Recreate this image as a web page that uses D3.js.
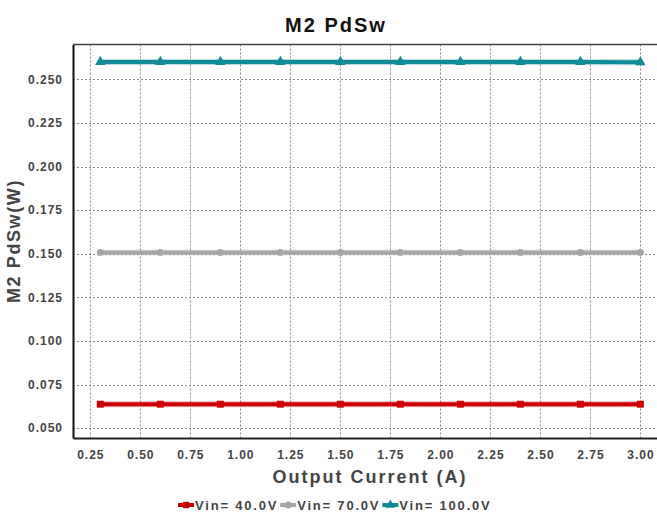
<!DOCTYPE html>
<html>
<head>
<meta charset="utf-8">
<script src="https://cdn.jsdelivr.net/npm/d3@7"></script>
<style>
  html, body { margin: 0; padding: 0; background: #fff; }
  svg { display: block; font-family: "Liberation Sans", Arial, sans-serif; }
</style>
</head>
<body>
<svg id="chart" width="657" height="513"></svg>
<script>
// Output current sweep (A)
const current = [0.3, 0.6, 0.9, 1.2, 1.5, 1.8, 2.1, 2.4, 2.7, 3.0];

// M2 switching loss (W) for each input voltage
const vin40 = [0.0637, 0.0637, 0.0637, 0.0637, 0.0637, 0.0637, 0.0637, 0.0637, 0.0637, 0.0637];
const vin70 = [0.1507, 0.1507, 0.1507, 0.1507, 0.1507, 0.1507, 0.1507, 0.1507, 0.1507, 0.1507];
const vin100 = [0.2600, 0.2600, 0.2600, 0.2600, 0.2600, 0.2600, 0.2600, 0.2600, 0.2600, 0.2598];

const seriesNames = ["Vin= 40.0V", "Vin= 70.0V", "Vin= 100.0V"];
const seriesColors = ["#cc0000", "#a6a6a6", "#138a98"];
const seriesMarkers = ["square", "circle", "triangle"];

const xTicks = [0.25, 0.5, 0.75, 1.0, 1.25, 1.5, 1.75, 2.0, 2.25, 2.5, 2.75, 3.0];
const yTicks = [0.05, 0.075, 0.1, 0.125, 0.15, 0.175, 0.2, 0.225, 0.25];

const series = [vin40, vin70, vin100].map((vals, i) => ({
  name: seriesNames[i],
  color: seriesColors[i],
  marker: seriesMarkers[i],
  points: vals.map((v, j) => ({ x: current[j], y: v }))
}));

const svg = d3.select("#chart");
const W = 657, H = 513;
const plot = { left: 73, top: 44.5, right: 660, bottom: 438 };

const x = d3.scaleLinear().domain([0.1635, 3.098]).range([plot.left, plot.right]);
const y = d3.scaleLinear().domain([0.04432, 0.27]).range([plot.bottom, plot.top]);

// Grid lines
const grid = svg.append("g");
grid.selectAll("line.gx").data(xTicks).join("line")
  .attr("x1", d => Math.round(x(d)) + 0.5).attr("x2", d => Math.round(x(d)) + 0.5)
  .attr("y1", plot.top).attr("y2", plot.bottom)
  .attr("stroke", "#8c8c8c").attr("stroke-width", 1).attr("stroke-dasharray", "2,2");
grid.selectAll("line.gy").data(yTicks).join("line")
  .attr("y1", d => Math.round(y(d)) + 0.5).attr("y2", d => Math.round(y(d)) + 0.5)
  .attr("x1", plot.left).attr("x2", W)
  .attr("stroke", "#8c8c8c").attr("stroke-width", 1).attr("stroke-dasharray", "2,2");

// Top frame
svg.append("line").attr("x1", plot.left).attr("x2", W)
  .attr("y1", plot.top).attr("y2", plot.top)
  .attr("stroke", "#444").attr("stroke-width", 1.5);

// Axes
const xAxis = d3.axisBottom(x).tickValues(xTicks).tickFormat(d3.format(".2f")).tickSize(0).tickPadding(10);
const yAxis = d3.axisLeft(y).tickValues(yTicks).tickFormat(d3.format(".3f")).tickSize(0).tickPadding(10);

const gx = svg.append("g").attr("transform", `translate(0,${plot.bottom})`).call(xAxis);
gx.select(".domain").attr("stroke", "#222").attr("stroke-width", 2);
gx.selectAll("text").attr("font-size", 12).attr("font-weight", "bold")
  .attr("fill", "#444").attr("letter-spacing", "1px").attr("dy", "0.95em");

const gy = svg.append("g").attr("transform", `translate(${plot.left},0)`).call(yAxis);
gy.select(".domain").attr("stroke", "#111").attr("stroke-width", 2);
gy.selectAll("text").attr("font-size", 12).attr("font-weight", "bold")
  .attr("fill", "#444").attr("letter-spacing", "1px");

// Series lines and markers
const line = d3.line().x(d => x(d.x)).y(d => y(d.y));
const symbolType = { square: d3.symbolSquare, circle: d3.symbolCircle, triangle: d3.symbolTriangle };

series.forEach(s => {
  const g = svg.append("g");
  g.append("path").datum(s.points).attr("d", line)
    .attr("fill", "none").attr("stroke", s.color).attr("stroke-opacity", 0.3).attr("stroke-width", 6);
  g.append("path").datum(s.points).attr("d", line)
    .attr("fill", "none").attr("stroke", s.color).attr("stroke-width", 4);
  g.selectAll("path.m").data(s.points).join("path")
    .attr("transform", d => `translate(${x(d.x)},${y(d.y)})`)
    .attr("d", d3.symbol().type(symbolType[s.marker]).size(s.marker === "circle" ? 40 : 48))
    .attr("fill", s.color);
});

// Title
svg.append("text").attr("x", 336).attr("y", 32).attr("text-anchor", "middle")
  .attr("font-size", 20).attr("font-weight", "bold").attr("letter-spacing", "2px")
  .attr("fill", "#111").text("M2 PdSw");

// Axis titles
svg.append("text").attr("x", 370).attr("y", 483).attr("text-anchor", "middle")
  .attr("font-size", 18).attr("font-weight", "bold").attr("letter-spacing", "2px")
  .attr("fill", "#444").text("Output Current (A)");

svg.append("text").attr("transform", "translate(20,241) rotate(-90)").attr("text-anchor", "middle")
  .attr("font-size", 18).attr("font-weight", "bold").attr("letter-spacing", "1.6px")
  .attr("fill", "#444").text("M2 PdSw(W)");

// Legend
const legend = svg.append("g").attr("transform", "translate(178,510)");
let lx = 0;
series.forEach(s => {
  const item = legend.append("g").attr("transform", `translate(${lx},0)`);
  item.append("line").attr("x1", 0).attr("x2", 16).attr("y1", -5).attr("y2", -5)
    .attr("stroke", s.color).attr("stroke-width", 4);
  item.append("path").attr("transform", "translate(8,-5)")
    .attr("d", d3.symbol().type(symbolType[s.marker]).size(40)).attr("fill", s.color);
  const t = item.append("text").attr("x", 17).attr("y", 0)
    .attr("font-size", 13).attr("font-weight", "bold").attr("letter-spacing", "1.8px")
    .attr("fill", "#444").text(s.name);
  lx += 17 + t.node().getComputedTextLength() + 2;
});
</script>
</body>
</html>
